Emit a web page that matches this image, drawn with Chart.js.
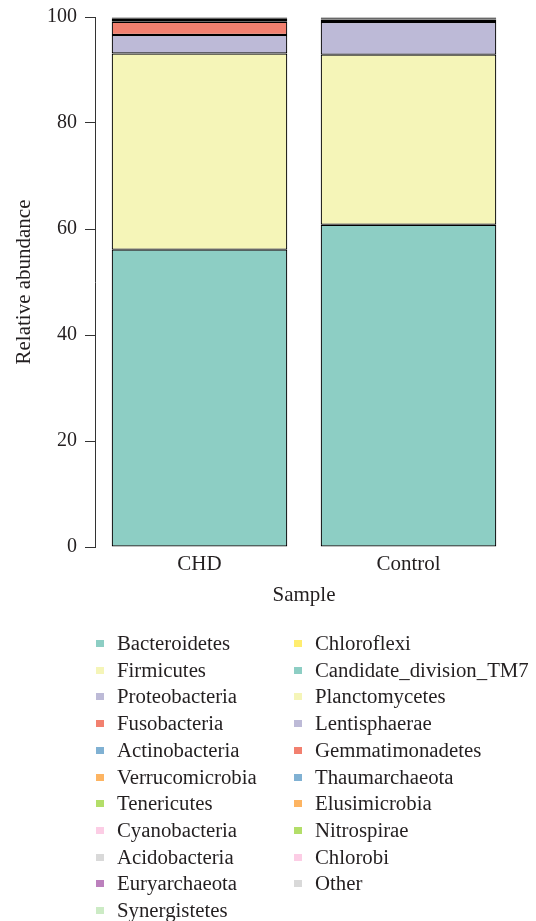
<!DOCTYPE html>
<html>
<head>
<meta charset="utf-8">
<script src="https://cdn.jsdelivr.net/npm/chart.js@4.4.1/dist/chart.umd.min.js"></script>
<style>
  html, body { margin: 0; padding: 0; background: #fff; }
  #wrap { position: relative; width: 536px; height: 921px; overflow: hidden; }
  #box { position: absolute; left: 0; top: 0; width: 536px; height: 616px; }
  #legend { position: absolute; left: 0; top: 0; width: 536px; height: 921px; pointer-events: none;
            font-family: "Liberation Serif", "Times New Roman", serif; font-size: 20.8px; color: #231f20; }
  .li { position: absolute; height: 26px; line-height: 26px; white-space: nowrap; }
  .sw { position: absolute; width: 8px; height: 7px; top: 10px; left: 0; }
  .tx { position: absolute; left: 21px; top: 0; }
</style>
</head>
<body>
<div id="wrap">
  <div id="box"><canvas id="c"></canvas></div>
  <div id="legend"></div>
</div>
<script>
const samples = ['CHD', 'Control'];
const phyla = ['Bacteroidetes','Firmicutes','Proteobacteria','Fusobacteria','Actinobacteria','Verrucomicrobia',
  'Tenericutes','Cyanobacteria','Acidobacteria','Euryarchaeota','Synergistetes','Chloroflexi',
  'Candidate_division_TM7','Planctomycetes','Lentisphaerae','Gemmatimonadetes','Thaumarchaeota',
  'Elusimicrobia','Nitrospirae','Chlorobi','Other'];
const colors = ['#8DCEC4','#F5F5B8','#BDBAD7','#F2806F','#80B1D3','#FDB462','#B3DE69','#FCCDE5',
  '#D9D9D9','#BC80BD','#CCEBC5','#FFED6F','#8DCEC4','#F5F5B8','#BDBAD7','#F2806F','#80B1D3',
  '#FDB462','#B3DE69','#FCCDE5','#D9D9D9'];
const chdValues = [56.1, 37.0, 3.5, 2.5, 0.35, 0.18, 0.15, 0.08, 0.03, 0.04, 0.02, 0.01,
  0.01, 0.005, 0.005, 0.005, 0.005, 0.005, 0.005, 0.005, 0.02];
const controlValues = [60.8, 32.1, 6.15, 0.2, 0.3, 0.2, 0.08, 0.05, 0.02, 0.04, 0.02, 0.005,
  0.005, 0.005, 0.005, 0.002, 0.002, 0.002, 0.002, 0.002, 0.005];
const yTicks = [0, 20, 40, 60, 80, 100];

const FONT = '"Liberation Serif", "Times New Roman", serif';
const ink = '#231f20';

const datasets = phyla.map((name, i) => ({
  label: name,
  data: [chdValues[i], controlValues[i]],
  backgroundColor: colors[i],
  borderColor: '#000000',
  borderWidth: 1.2,
  borderSkipped: false,
  barPercentage: 0.84,
  categoryPercentage: 1.0
}));

new Chart(document.getElementById('c'), {
  type: 'bar',
  data: { labels: samples, datasets },
  options: {
    responsive: true,
    maintainAspectRatio: false,
    animation: false,
    layout: { padding: { top: 17, right: 23, left: 0, bottom: 0 } },
    plugins: { legend: { display: false }, tooltip: { enabled: false } },
    scales: {
      x: {
        stacked: true,
        grid: { display: false, drawTicks: false },
        border: { display: false },
        ticks: { color: ink, font: { family: FONT, size: 21 }, padding: 5 },
        title: { display: true, text: 'Sample', color: ink, font: { family: FONT, size: 21 }, padding: { top: 0, bottom: 8 } },
        afterFit: s => { s.height = 69; s.paddingLeft = 0; s.paddingRight = 0; }
      },
      y: {
        stacked: true,
        min: 0, max: 100,
        afterBuildTicks: s => { s.ticks = yTicks.map(v => ({ value: v })); },
        grid: { display: true, drawOnChartArea: false, drawTicks: true, tickLength: 10, color: '#333333', lineWidth: 1 },
        border: { display: true, color: '#333333', width: 1 },
        ticks: { color: ink, font: { family: FONT, size: 20 }, padding: 8 },
        title: { display: true, text: 'Relative abundance', color: ink, font: { family: FONT, size: 21 }, padding: { top: 12, bottom: 0 } },
        afterFit: s => { s.width = 95; s.paddingTop = 0; s.paddingBottom = 0; }
      }
    }
  }
});

// legend, column-major: 11 rows in the first column
const legend = document.getElementById('legend');
const rows = 11;
phyla.forEach((name, i) => {
  const col = Math.floor(i / rows), row = i % rows;
  const d = document.createElement('div');
  d.className = 'li';
  d.style.left = (col === 0 ? 96 : 294) + 'px';
  d.style.top = (630 + row * 26.7) + 'px';
  const sw = document.createElement('div');
  sw.className = 'sw';
  sw.style.background = colors[i];
  const tx = document.createElement('div');
  tx.className = 'tx';
  tx.textContent = name;
  d.appendChild(sw); d.appendChild(tx);
  legend.appendChild(d);
});
</script>
</body>
</html>
